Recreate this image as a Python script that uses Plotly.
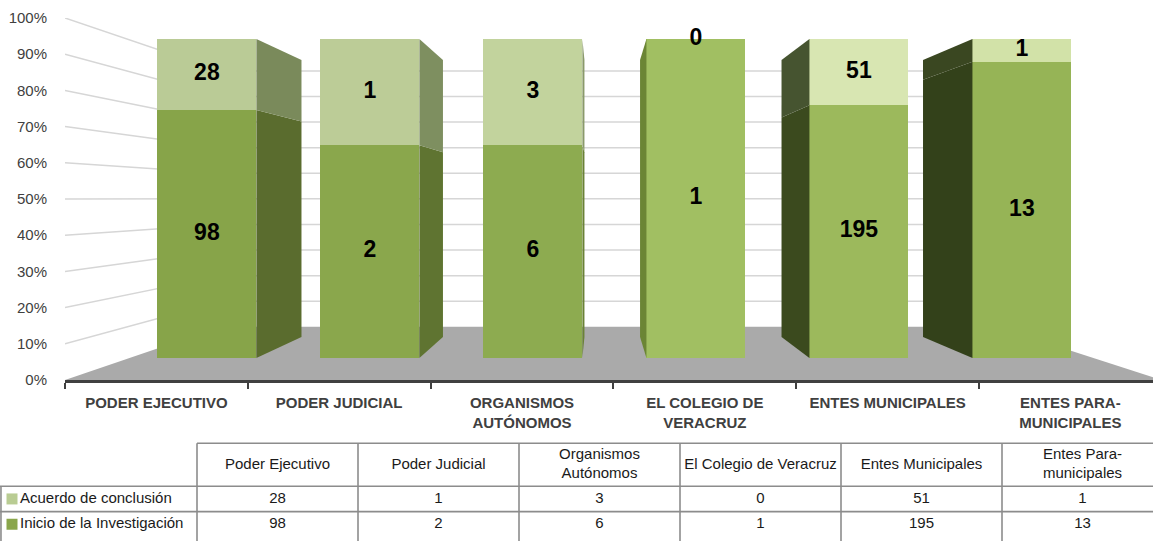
import plotly.graph_objects as go

# ---------------- data ----------------
categories = ["Poder Ejecutivo", "Poder Judicial", "Organismos<br>Autónomos",
              "El Colegio de Veracruz", "Entes Municipales", "Entes Para-<br>municipales"]
axis_labels = ["PODER EJECUTIVO", "PODER JUDICIAL", "ORGANISMOS<br>AUTÓNOMOS",
               "EL COLEGIO DE<br>VERACRUZ", "ENTES MUNICIPALES", "ENTES PARA-<br>MUNICIPALES"]
series_names = ["Acuerdo de conclusión", "Inicio de la Investigación"]
acuerdo = [28, 1, 3, 0, 51, 1]
inicio = [98, 2, 6, 1, 195, 13]
y_ticks = [0, 10, 20, 30, 40, 50, 60, 70, 80, 90, 100]
y_tick_labels = ["0%", "10%", "20%", "30%", "40%", "50%", "60%", "70%", "80%", "90%", "100%"]

# ---------------- styles / geometry ----------------
W_PX, H_PX = 1153, 541
AX_L, PLOT_TOP, PLOT_BOT = 65, 18, 380
CAT_STEP = 182.8
BAR_C0, BAR_STEP, BAR_TOP, BAR_BOT = 206.9, 163.0, 39, 358
BAR_W = 0.607
VP_X, VP_Y = 2.40, 50.0
K_BACK = 0.868       # bar back face vs bar front face
K_WALL = 0.707       # back wall vs front axis plane

front_in = ["#87a449", "#8aa74c", "#8dab50", "#a1bf62", "#9cb95c", "#96b456"]
front_ac = ["#bacb96", "#bccc97", "#c2d39d", "#c8d9a2", "#d8e6b2", "#d2e2a8"]
side_in = ["#5a6c2e", "#5f7431", "#6a8236", "#6b8535", "#3b4a1e", "#33411a"]
side_ac = ["#7a8a5b", "#7e8f60", "#8a9a6a", "#6b8535", "#465430", "#3a4721"]
leg_colors = ["#b9cc93", "#8aa64b"]
TXT = "#404040"
FONT = "Liberation Sans, Arial, sans-serif"

n = len(categories)
idx = list(range(n))
tot = [a + b for a, b in zip(acuerdo, inicio)]
p_in = [b / t * 100 for b, t in zip(inicio, tot)]
p_ac = [a / t * 100 for a, t in zip(acuerdo, tot)]

px_pct = (BAR_BOT - BAR_TOP) / 100.0
x_rng = [(AX_L - BAR_C0) / BAR_STEP, (W_PX - BAR_C0) / BAR_STEP]
y_rng = [-(PLOT_BOT - BAR_BOT) / px_pct, 100 + (BAR_TOP - PLOT_TOP) / px_pct]
dom_x = [AX_L / W_PX, 1.0]
dom_y = [1 - PLOT_BOT / H_PX, 1 - PLOT_TOP / H_PX]

fig = go.Figure()

# bars (front faces)
fig.add_trace(go.Bar(x=idx, y=p_in, width=BAR_W, name=series_names[1],
                     marker=dict(color=front_in, line=dict(width=0)),
                     xaxis="x", yaxis="y", showlegend=False, hoverinfo="skip"))
fig.add_trace(go.Bar(x=idx, y=p_ac, width=BAR_W, name=series_names[0],
                     marker=dict(color=front_ac, line=dict(width=0)),
                     xaxis="x", yaxis="y", showlegend=False, hoverinfo="skip"))


def persp(x, y, k):
    return VP_X + k * (x - VP_X), VP_Y + k * (y - VP_Y)


# side faces (perspective, derived from the same values)
for i in idx:
    segs = [(0, p_in[i], side_in[i]), (p_in[i], 100, side_ac[i])]
    xr = i + BAR_W / 2
    xl = i - BAR_W / 2
    edges = []
    if xr < VP_X:
        edges.append(xr)
    if xl > VP_X:
        edges.append(xl)
    for xe in edges:
        for y0, y1, col in segs:
            if y1 - y0 <= 0:
                continue
            xb0, yb0 = persp(xe, y0, K_BACK)
            xb1, yb1 = persp(xe, y1, K_BACK)
            fig.add_trace(go.Scatter(x=[xe, xe, xb1, xb0, xe], y=[y0, y1, yb1, yb0, y0],
                                     mode="lines", fill="toself", fillcolor=col,
                                     line=dict(width=0, color=col),
                                     xaxis="x", yaxis="y", showlegend=False, hoverinfo="skip"))

# value labels
lab_x = idx + idx
lab_y = [p / 2 for p in p_in] + [pi + pa / 2 for pi, pa in zip(p_in, p_ac)]
lab_t = [str(v) for v in inicio] + [str(v) for v in acuerdo]
fig.add_trace(go.Scatter(x=lab_x, y=lab_y, text=lab_t, mode="text",
                         textfont=dict(family=FONT, size=23, color="#000000", weight=700),
                         xaxis="x", yaxis="y", showlegend=False, hoverinfo="skip",
                         cliponaxis=False))

# floor and walls (shapes under the bars)
shapes = []
ax_left = x_rng[0]
ax_right = ((AX_L + n * CAT_STEP) - BAR_C0) / BAR_STEP
y0_ax = y_rng[0]
blx, bly = persp(ax_left, y0_ax, K_WALL)
brx, _ = persp(ax_right, y0_ax, K_WALL)
shapes.append(dict(type="path", xref="x", yref="y", layer="below",
                   path=f"M {ax_left},{y0_ax} L {blx},{bly} L {brx},{bly} L {ax_right},{y0_ax} Z",
                   fillcolor="#aaaaaa", line=dict(width=0)))
for t in y_ticks[1:]:
    ya = y_rng[0] + t * (y_rng[1] - y_rng[0]) / 100
    xb, yb = persp(ax_left, ya, K_WALL)
    xb2, _ = persp(ax_right, ya, K_WALL)
    shapes.append(dict(type="path", xref="x", yref="y", layer="below",
                       path=f"M {ax_left},{ya} L {xb},{yb} L {xb2},{yb}",
                       line=dict(color="#d6d6d6", width=1.5)))

# visible axes subplot (x2/y2)
fig.add_trace(go.Scatter(x=categories, y=[None] * n, mode="markers", xaxis="x2", yaxis="y2",
                         showlegend=False, hoverinfo="skip"))

# ---------------- table (x3/y3) ----------------
ROW_H = 25.3
HEAD_H = 43 / ROW_H
ROW0_TOP = 486.3
COL0 = 197.0
COL_W = 161.0
T_DOM = [0, 0.2]
t_top_px = H_PX * (1 - T_DOM[1])
tx_rng = [-COL0 / COL_W, (W_PX - COL0) / COL_W]
ty_rng = [(H_PX - ROW0_TOP) / ROW_H, -(ROW0_TOP - t_top_px) / ROW_H]

grid = "#8c8c8c"
lw = 1.6
shapes.append(dict(type="line", xref="x3", yref="y3", x0=0, x1=n, y0=-HEAD_H, y1=-HEAD_H,
                   line=dict(color=grid, width=lw)))
for r in range(len(series_names)):
    shapes.append(dict(type="line", xref="x3", yref="y3", x0=tx_rng[0], x1=n, y0=r, y1=r,
                       line=dict(color=grid, width=lw)))
shapes.append(dict(type="line", xref="x3", yref="y3", x0=tx_rng[0] + 0.006, x1=tx_rng[0] + 0.006,
                   y0=0, y1=len(series_names) + 0.5, line=dict(color=grid, width=lw)))
for j in range(n + 1):
    shapes.append(dict(type="line", xref="x3", yref="y3", x0=j, x1=j, y0=-HEAD_H,
                       y1=len(series_names) + 0.5, line=dict(color=grid, width=lw)))

fig.add_trace(go.Scatter(x=[j + 0.5 for j in range(n)], y=[-HEAD_H / 2] * n, text=categories,
                         mode="text", textfont=dict(family=FONT, size=15, color="#1a1a1a"),
                         xaxis="x3", yaxis="y3", showlegend=False, hoverinfo="skip",
                         cliponaxis=False))
rows = [acuerdo, inicio]
cx, cy, ct = [], [], []
for r, vals in enumerate(rows):
    for j, v in enumerate(vals):
        cx.append(j + 0.5)
        cy.append(r + 0.5)
        ct.append(str(v))
fig.add_trace(go.Scatter(x=cx, y=cy, text=ct, mode="text",
                         textfont=dict(family=FONT, size=15, color="#1a1a1a"),
                         xaxis="x3", yaxis="y3", showlegend=False, hoverinfo="skip",
                         cliponaxis=False))
key_x = (12 - COL0) / COL_W
txt_x = (20 - COL0) / COL_W
fig.add_trace(go.Scatter(x=[key_x] * 2, y=[0.5, 1.5], mode="markers",
                         marker=dict(symbol="square", size=11, color=leg_colors, line=dict(width=0)),
                         xaxis="x3", yaxis="y3", showlegend=False, hoverinfo="skip",
                         cliponaxis=False))
fig.add_trace(go.Scatter(x=[txt_x] * 2, y=[0.5, 1.5], mode="text", text=series_names,
                         textposition="middle right",
                         textfont=dict(family=FONT, size=15, color="#1a1a1a"),
                         xaxis="x3", yaxis="y3", showlegend=False, hoverinfo="skip",
                         cliponaxis=False))

hidden = dict(visible=False, fixedrange=True, automargin=False)
fig.update_layout(
    width=W_PX, height=H_PX, autosize=False,
    margin=dict(l=0, r=0, t=0, b=0, pad=0, autoexpand=False),
    paper_bgcolor="white", plot_bgcolor="rgba(0,0,0,0)",
    barmode="stack", bargap=0, showlegend=False,
    shapes=shapes,
    xaxis=dict(domain=dom_x, range=x_rng, anchor="y", **hidden),
    yaxis=dict(domain=dom_y, range=y_rng, anchor="x", **hidden),
    xaxis2=dict(domain=dom_x, anchor="y2", type="category", categoryorder="array",
                categoryarray=categories, tickvals=categories, ticktext=axis_labels,
                range=[-0.5, -0.5 + (W_PX - AX_L) / CAT_STEP], automargin=False,
                showline=True, linecolor="#404040", linewidth=3,
                ticks="outside", tickson="boundaries", ticklen=6, tickwidth=2, tickcolor="#404040",
                ticklabelstandoff=7,
                tickfont=dict(family=FONT, size=15, color=TXT, weight=700),
                showgrid=False, zeroline=False, fixedrange=True),
    yaxis2=dict(domain=dom_y, anchor="x2", range=[0, 100], tickvals=y_ticks, ticktext=y_tick_labels,
                showline=False, showgrid=False, zeroline=False, automargin=False,
                ticks="outside", ticklen=14, tickcolor="rgba(0,0,0,0)",
                tickfont=dict(family=FONT, size=15, color=TXT), fixedrange=True),
    xaxis3=dict(domain=[0, 1], range=tx_rng, anchor="y3", **hidden),
    yaxis3=dict(domain=T_DOM, range=ty_rng, anchor="x3", **hidden),
)

fig.write_html("out.html", config={"displayModeBar": False},
               post_script="document.body.style.margin='0';document.body.style.overflow='hidden';")
